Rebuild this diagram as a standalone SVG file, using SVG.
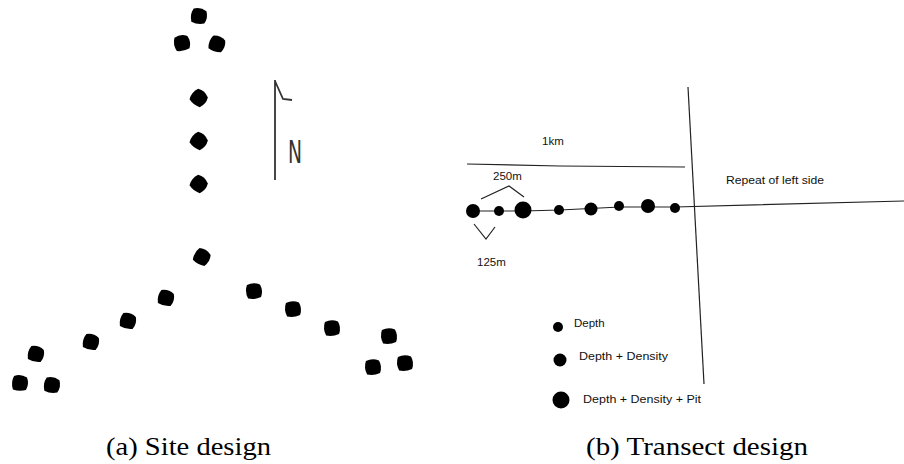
<svg xmlns="http://www.w3.org/2000/svg" xmlns:xlink="http://www.w3.org/1999/xlink" width="904" height="464" viewBox="0 0 904 464">
<style>
.ln{stroke:#222;stroke-width:1.2;fill:none}
.lbl{font-family:"Liberation Sans",Arial,sans-serif;font-size:11.5px;fill:#111}
.cap{font-family:"Liberation Serif","Times New Roman",serif;font-size:25px;fill:#000}
.dot{fill:#000}
</style>
<defs>
<path id="blob" d="M-6.5,-6.5 Q0,-9.5 6.5,-6 Q9.5,0 6.5,6.5 Q0,9 -6.5,7 Q-9.5,0 -6.5,-6.5Z"/>
</defs>
<rect width="904" height="464" fill="#fff"/>
<g id="site">
<g id="site-dots" class="dot">
<use xlink:href="#blob" transform="translate(199,16) rotate(10)"/>
<use xlink:href="#blob" transform="translate(182,43) rotate(-10)"/>
<use xlink:href="#blob" transform="translate(217,44) rotate(20)"/>
<use xlink:href="#blob" transform="translate(199,98) rotate(40)"/>
<use xlink:href="#blob" transform="translate(199,141) rotate(40)"/>
<use xlink:href="#blob" transform="translate(199,184) rotate(40)"/>
<use xlink:href="#blob" transform="translate(202,257) rotate(30)"/>
<use xlink:href="#blob" transform="translate(166,298) rotate(15)"/>
<use xlink:href="#blob" transform="translate(128,321) rotate(15)"/>
<use xlink:href="#blob" transform="translate(91,342) rotate(15)"/>
<use xlink:href="#blob" transform="translate(36,354) rotate(15)"/>
<use xlink:href="#blob" transform="translate(20,383) rotate(5)"/>
<use xlink:href="#blob" transform="translate(52,385) rotate(10)"/>
<use xlink:href="#blob" transform="translate(254,291) rotate(-5)"/>
<use xlink:href="#blob" transform="translate(293,309) rotate(-5)"/>
<use xlink:href="#blob" transform="translate(332,328) rotate(-5)"/>
<use xlink:href="#blob" transform="translate(389,336) rotate(-5)"/>
<use xlink:href="#blob" transform="translate(373,367) rotate(-5)"/>
<use xlink:href="#blob" transform="translate(405,363) rotate(-5)"/>
</g>
<g id="north-arrow">
<path d="M275,80 V180 M275,81 L283,99 L292,100" stroke="#333" stroke-width="1.8" fill="none"/>
<text x="288" y="163" font-family="DejaVu Sans,sans-serif" font-size="32" fill="#333" textLength="14" lengthAdjust="spacingAndGlyphs">N</text>
</g>
</g>
<g id="transect">
<g id="connectors">
<path class="ln" d="M467,164 L560,166 L685,167"/>
<path class="ln" d="M688,87 L704,384"/>
<path class="ln" d="M473,211 L523,211 L560,210 L620,207 L675,207 L904,201"/>
<path class="ln" d="M481,199 L509,186 L524,197"/>
<path class="ln" d="M474,224 L486,239 L495,227"/>
</g>
<g id="transect-dots" class="dot">
<circle cx="473" cy="211" r="7"/>
<circle cx="499" cy="211" r="5"/>
<circle cx="523" cy="210" r="8.5"/>
<circle cx="559" cy="210" r="5"/>
<circle cx="591" cy="209" r="6.5"/>
<circle cx="619" cy="206" r="5"/>
<circle cx="648" cy="206" r="7"/>
<circle cx="675" cy="208" r="5"/>
</g>
<text class="lbl" x="542" y="145">1km</text>
<text class="lbl" x="493" y="180">250m</text>
<text class="lbl" x="477" y="266">125m</text>
<text class="lbl" x="726" y="184" textLength="98" lengthAdjust="spacingAndGlyphs">Repeat of left side</text>
<g id="legend">
<circle class="dot" cx="558" cy="327" r="5"/>
<text class="lbl" x="574" y="327">Depth</text>
<circle class="dot" cx="560" cy="360" r="6.5"/>
<text class="lbl" x="579" y="360" textLength="89" lengthAdjust="spacingAndGlyphs">Depth + Density</text>
<circle class="dot" cx="561" cy="400" r="8.5"/>
<text class="lbl" x="583" y="403" textLength="118" lengthAdjust="spacingAndGlyphs">Depth + Density + Pit</text>
</g>
</g>
<text class="cap" x="106" y="455" textLength="165" lengthAdjust="spacingAndGlyphs">(a) Site design</text>
<text class="cap" x="586" y="455" textLength="222" lengthAdjust="spacingAndGlyphs">(b) Transect design</text>
</svg>
